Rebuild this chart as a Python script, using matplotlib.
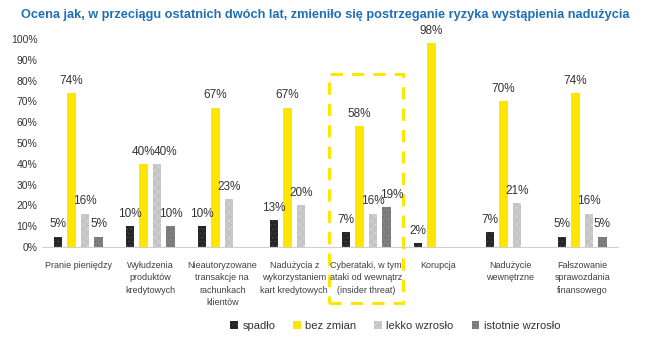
import matplotlib.pyplot as plt
from matplotlib.patches import Rectangle
import numpy as np

plt.rcParams['font.family'] = ['Liberation Sans Narrow', 'Liberation Sans', 'DejaVu Sans']
plt.rcParams['hatch.linewidth'] = 0.4

# data
categories = ["Pranie pieniędzy",
              "Wyłudzenia\nproduktów\nkredytowych",
              "Nieautoryzowane\ntransakcje na\nrachunkach\nklientów",
              "Nadużycia z\nwykorzystaniem\nkart kredytowych",
              "Cyberataki, w tym\nataki od wewnątrz\n(insider threat)",
              "Korupcja",
              "Nadużycie\nwewnętrzne",
              "Fałszowanie\nsprawozdania\nfinansowego"]
series_names = ["spadło", "bez zmian", "lekko wzrosło", "istotnie wzrosło"]
spadlo = [5, 10, 10, 13, 7, 2, 7, 5]
bez_zmian = [74, 40, 67, 67, 58, 98, 70, 74]
lekko = [16, 40, 23, 20, 16, np.nan, 21, 16]
istotnie = [5, 10, np.nan, np.nan, 19, np.nan, np.nan, 5]
yticks = list(range(0, 101, 10))

colors = ["#262626", "#FFE600", "#C4C4C4", "#7F7F7F"]
hatches = ["....", None, "xxxx", "...."]
hatch_cols = ["#4a4a5a", None, "#d8d8d8", "#6a6a6a"]

# small label shifts (series, category) -> dx, where labels crowd each other
nudges = {(2, 1): 0.12, (3, 4): 0.08}

fig = plt.figure(figsize=(6.5, 3.42), dpi=100)
ax = fig.add_axes([0.065, 0.278, 0.886, 0.608])

x = np.arange(len(categories))
step = 0.1875
width = 0.12
for i, vals in enumerate([spadlo, bez_zmian, lekko, istotnie]):
    vals = np.array(vals, dtype=float)
    pos = x + (i - 1.5) * step
    ax.bar(pos, vals, width, color=colors[i], label=series_names[i],
           hatch=hatches[i], edgecolor=hatch_cols[i] if hatches[i] else colors[i],
           linewidth=0)
    for j, (p, v) in enumerate(zip(pos, vals)):
        if not np.isnan(v):
            ax.text(p + nudges.get((i, j), 0), v + 3, f"{int(v)}%", ha='center',
                    va='bottom', fontsize=8.5, color='#333333')

ax.set_xlim(-0.5, len(categories) - 0.5)
ax.set_ylim(0, 100)
ax.set_yticks(yticks)
ax.set_yticklabels([f"{t}%" for t in yticks], fontsize=7.5, color='#333333')
ax.set_xticks(x)
ax.set_xticklabels(categories, fontsize=6.5, color='#404040', linespacing=1.5, va='top')
ax.tick_params(axis='both', length=0)
ax.tick_params(axis='x', pad=10)
for s in ['top', 'right', 'left']:
    ax.spines[s].set_visible(False)
ax.spines['bottom'].set_color('#d0d0d0')

# dashed highlight around Cyberataki
ax.add_patch(Rectangle((4 - 0.515, -27), 1.03, 110, fill=False, edgecolor='#FFE600',
                       linestyle=(0, (4, 3)), linewidth=2.2, clip_on=False))

fig.text(0.5, 0.955, "Ocena jak, w przeciągu ostatnich dwóch lat, zmieniło się postrzeganie ryzyka wystąpienia nadużycia",
         ha='center', va='center', fontsize=9.2, fontweight='bold', color='#1F6FB4')

fig.legend(loc='center', bbox_to_anchor=(0.608, 0.047), ncol=4, frameon=False,
           fontsize=8, handlelength=0.7, handleheight=0.7, handletextpad=0.4,
           columnspacing=1.6, labelcolor='#333333')

fig.savefig("out.png", dpi=100)
